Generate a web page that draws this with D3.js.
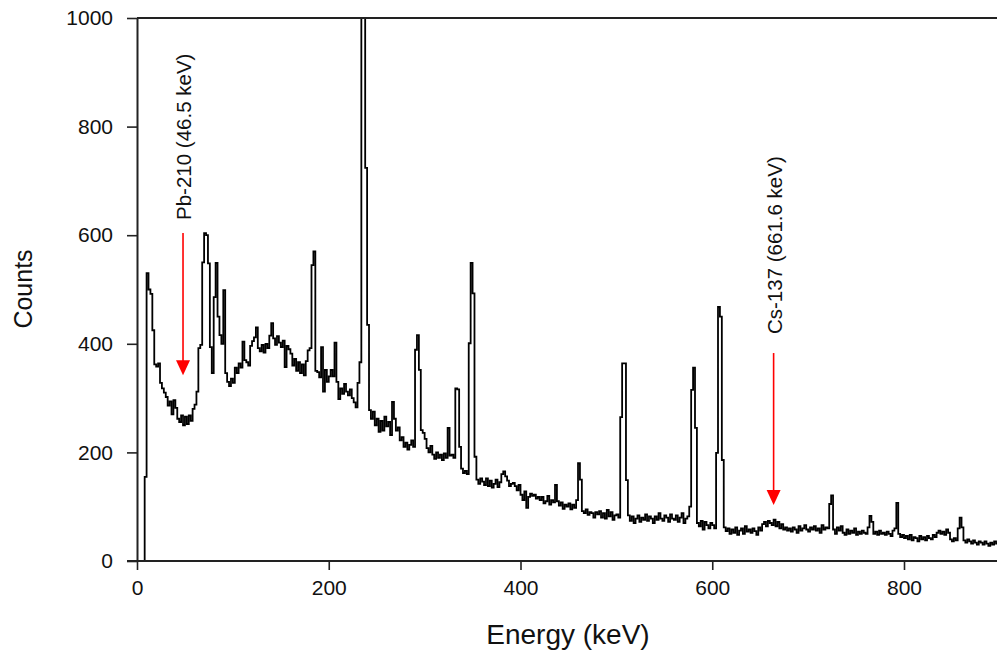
<!DOCTYPE html>
<html><head><meta charset="utf-8">
<script src="https://cdn.jsdelivr.net/npm/d3@7"></script>
<style>
body{margin:0;background:#fff;}
svg{display:block;}
text{font-family:"Liberation Sans", Arial, sans-serif;}
</style>
</head><body>
<svg id="chart" width="997" height="653"></svg>
<script>
// ---- data ----
const binWidth = 2; // keV per plotted channel
const countsLow = [
  0,0,0,0,155,530,500,492,425,362,
  358,364,328,318,310,302,286,294,270,296,
  282,262,256,268,250,266,252,268,258,280,
  288,312,392,398,550,604,600,548,394,346,
  486,549,450,416,400,499,346,330,322,336,
  328,356,346,364,356,404,370,366,360,396,
  405,412,430,392,386,398,384,400,392,415,
  438,410,398,414,402,394,406,357,396,390,
  382,360,372,350,366,346,362,342,368,388,
  392,545,570,350,348,338,394,312,352,330,
  340,352,340,402,330,298,318,308,326,312,
  305,316,300,292,283,328,366,1300,1500,724,
  435,278,262,275,250,262,238,258,240,266,
  248,256,232,293,262,240,246,222,228,210,
  218,205,214,222,210,389,416,352,241,236
];
const countsMid = [
  225,208,200,212,196,188,200,190,196,186,
  198,190,245,194,196,190,318,316,210,170,
  162,166,160,401,549,493,192,150,142,152,
  146,140,152,138,148,135,142,150,136,145,
  160,165,156,148,138,142,144,138,130,140,
  122,112,128,98,118,124,120,122,115,118,
  112,118,106,110,120,104,112,108,140,110,
  102,108,96,104,100,106,95,104,98,112,
  180,150,92,88,95,85,90,88,80,90,
  86,92,80,88,78,94,82,90,76,84,
  86,80,265,364,364,149,84,74,82,70,
  78,84,72,80,76,86,74,82,78,70,
  82,76,88,78,74,84,80,72,86,78,
  76,84,72,80,88,70,78,82,100,315,
  356,245,70,64,74,58,72,66,60,70
];
const countsHigh = [
  66,60,199,468,450,186,62,55,60,50,
  58,52,62,48,56,60,50,64,54,58,
  52,60,55,48,62,56,68,72,64,74,
  70,66,76,64,72,60,68,58,62,56,
  60,54,62,58,52,64,56,60,66,58,
  54,62,58,64,56,60,52,66,58,62,
  60,105,121,58,50,62,56,64,52,48,
  58,50,56,52,60,48,54,50,56,52,
  50,62,83,72,50,54,48,56,50,52,
  48,54,50,46,56,60,107,50,44,48,
  42,46,40,48,38,44,42,36,46,40,
  44,38,46,42,40,48,44,52,56,50,
  54,48,58,52,40,36,42,38,60,80,
  62,38,34,40,36,32,38,34,30,36,
  34,30,36,32,28,34,30,36,32,30,
  30
];
const xTicks = [0, 200, 400, 600, 800];
const yTicks = [0, 200, 400, 600, 800, 1000];
const annotationLabels = ["Pb-210 (46.5 keV)", "Cs-137 (661.6 keV)"];
const arrowEnergy = [48, 664];
const arrowTopCount = [604, 383];
const arrowTipCount = [342, 103];
const labelStartCount = [628, 418];

(function () {
const counts = countsLow.concat(countsMid, countsHigh);
const spectrum = counts.map((c, i) => ({e: i * binWidth, c: c}));

// ---- layout ----
const W = 997, H = 653;
const mLeft = 137, mBottom = 561, mTop = 18;
const x = d3.scaleLinear().domain([0, 900]).range([mLeft, mLeft + 900 * 0.95875]);
const y = d3.scaleLinear().domain([0, 1000]).range([mBottom, mTop]);

const svg = d3.select("#chart");

svg.append("defs").append("clipPath").attr("id", "plotclip")
  .append("rect").attr("x", mLeft).attr("y", mTop).attr("width", W - mLeft).attr("height", mBottom - mTop);

// spectrum
const line = d3.line().x(d => x(d.e)).y(d => y(d.c)).curve(d3.curveStepAfter);
svg.append("path")
  .datum(spectrum)
  .attr("clip-path", "url(#plotclip)")
  .attr("d", line)
  .attr("fill", "none")
  .attr("stroke", "#000")
  .attr("stroke-width", 1.8)
  .attr("stroke-linejoin", "miter");

// top frame line
svg.append("line")
  .attr("x1", mLeft).attr("x2", W).attr("y1", mTop).attr("y2", mTop)
  .attr("stroke", "#222").attr("stroke-width", 2);

// axes
const xAxis = d3.axisBottom(x).tickValues(xTicks).tickFormat(d3.format("d"))
  .tickSize(9).tickSizeOuter(0).tickPadding(10);
const gx = svg.append("g").attr("transform", `translate(0,${mBottom})`).call(xAxis);
const yAxis = d3.axisLeft(y).tickValues(yTicks).tickFormat(d3.format("d"))
  .tickSize(10).tickSizeOuter(0).tickPadding(14);
const gy = svg.append("g").attr("transform", `translate(${mLeft},0)`).call(yAxis);
[gx, gy].forEach(g => {
  g.select(".domain").attr("stroke", "#222").attr("stroke-width", 2);
  g.selectAll(".tick line").attr("stroke", "#222").attr("stroke-width", 1.6);
  g.selectAll(".tick text").attr("font-size", 21).attr("fill", "#111")
    .attr("font-family", "'Liberation Sans', Arial, sans-serif");
});
gx.select(".domain").attr("d", `M${mLeft - 10},0H${W}`);

// axis titles
svg.append("text")
  .attr("x", 568).attr("y", 644)
  .attr("text-anchor", "middle")
  .attr("font-size", 28)
  .attr("fill", "#111")
  .text("Energy (keV)");
svg.append("text")
  .attr("transform", "translate(32,289) rotate(-90)")
  .attr("text-anchor", "middle")
  .attr("font-size", 25)
  .attr("fill", "#111")
  .text("Counts");

// annotations
annotationLabels.forEach((t, i) => {
  const ax = x(arrowEnergy[i]);
  const tipY = y(arrowTipCount[i]), topY = y(arrowTopCount[i]);
  svg.append("line")
    .attr("x1", ax).attr("x2", ax).attr("y1", topY).attr("y2", tipY - 10)
    .attr("stroke", "#ff0000").attr("stroke-width", 1.6);
  svg.append("path")
    .attr("d", `M${ax - 7},${tipY - 15}L${ax + 7},${tipY - 15}L${ax},${tipY}Z`)
    .attr("fill", "#ff0000");
  svg.append("text")
    .attr("transform", `translate(${ax + 8},${y(labelStartCount[i])}) rotate(-90)`)
    .attr("font-size", 20.5)
    .attr("fill", "#111")
    .text(t);
});
})();
</script>
</body></html>
